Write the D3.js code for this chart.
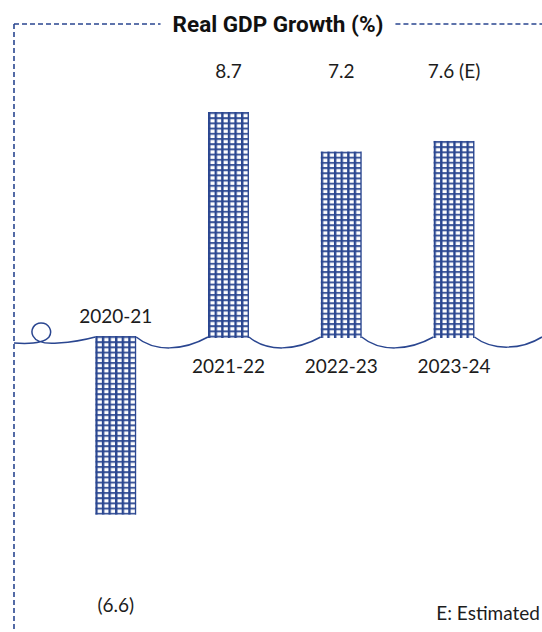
<!DOCTYPE html>
<html><head><meta charset="utf-8">
<script src="https://cdn.jsdelivr.net/npm/d3@7"></script>
<style>
html,body{margin:0;padding:0;background:#fff;}
svg{display:block;}
</style></head>
<body><svg id="c" width="542" height="632"></svg>
<script>
const categories = ["2020-21", "2021-22", "2022-23", "2023-24"];
const values = [-6.6, 8.7, 7.2, 7.6];
const valueLabels = ["(6.6)", "8.7", "7.2", "7.6 (E)"];
const title = "Real GDP Growth (%)";
const note = "E: Estimated";

const W = 542, H = 632;
const blue = "#2a4690";
const ink = "#1c1c1c";
const font = "Lato, 'Open Sans', sans-serif";

const svg = d3.select("#c");
const x = d3.scaleBand().domain(categories).range([58.6, 509.6]).paddingInner(0.65).paddingOuter(0.325);
const y = d3.scaleLinear().domain([0, 8.7]).range([341, 112]);
const y0 = y(0) - 3;

// frame
const dash = "5,3";
svg.append("line").attr("x1", 14).attr("x2", 14).attr("y1", 24).attr("y2", H)
  .attr("stroke", blue).attr("stroke-width", 1.6).attr("stroke-dasharray", dash);
const titleT = svg.append("text").attr("x", 278).attr("y", 32).attr("text-anchor", "middle")
  .attr("font-family", "Roboto, sans-serif").attr("font-weight", 700).attr("font-size", 22.5)
  .attr("fill", "#111").text(title);
const bb = titleT.node().getBBox();
svg.append("line").attr("x1", 14).attr("x2", bb.x - 12).attr("y1", 24).attr("y2", 24)
  .attr("stroke", blue).attr("stroke-width", 1.6).attr("stroke-dasharray", dash);
svg.append("line").attr("x1", bb.x + bb.width + 12).attr("x2", W).attr("y1", 24).attr("y2", 24)
  .attr("stroke", blue).attr("stroke-width", 1.6).attr("stroke-dasharray", dash);

// patterns per bar
const defs = svg.append("defs");
categories.forEach((c, i) => {
  const top = Math.min(y(values[i]), y(0));
  const p = defs.append("pattern").attr("id", "pat" + i).attr("patternUnits", "userSpaceOnUse")
    .attr("x", x(c)).attr("y", values[i] < 0 ? y0 - 2 : top).attr("width", 6.6).attr("height", 5.2);
  p.append("rect").attr("x", 0).attr("y", 0).attr("width", 2.4).attr("height", 5.2).attr("fill", blue);
  p.append("rect").attr("x", 0).attr("y", 0).attr("width", 6.6).attr("height", 2).attr("fill", blue).attr("opacity", 0.9);
});

const bw = x.bandwidth() + 1.5;
svg.append("g").selectAll("rect").data(values).join("rect")
  .attr("x", (d, i) => x(categories[i]))
  .attr("y", d => d >= 0 ? y(d) : y0 - 2)
  .attr("width", bw)
  .attr("height", d => d >= 0 ? y(0) - y(d) - 3 : y(d) - y0 + 2)
  .attr("fill", (d, i) => `url(#pat${i})`);

// wavy baseline with loop
const edges = categories.map(c => [x(c), x(c) + bw]);
let path = d3.path();
path.moveTo(14, y0 + 5);
path.bezierCurveTo(28, y0 + 6, 44, y0 + 5, 49, y0 - 1);
path.bezierCurveTo(53, y0 - 7, 49, y0 - 15, 41, y0 - 15);
path.bezierCurveTo(34, y0 - 15, 30, y0 - 8, 33, y0 - 2);
path.bezierCurveTo(36, y0 + 4, 46, y0 + 6, 58, y0 + 5);
path.bezierCurveTo(74, y0 + 4, 88, y0 + 1, edges[0][0], y0 - 1);
for (let i = 0; i < edges.length; i++) {
  const a = edges[i][1];
  const last = i === edges.length - 1;
  const b = last ? W : edges[i + 1][0];
  const w = last ? 72 : b - a;
  path.moveTo(a, y0 - 1);
  if (last) {
    path.bezierCurveTo(a + w * 0.25, y0 + 13, a + w * 0.65, y0 + 12, b, y0 - 1);
  } else {
    path.bezierCurveTo(a + w * 0.25, y0 + 14, b - w * 0.35, y0 + 13, b, y0 - 1);
  }
}
svg.append("path").attr("d", path.toString()).attr("fill", "none")
  .attr("stroke", blue).attr("stroke-width", 1.5);

// value labels
svg.append("g").selectAll("text").data(values).join("text")
  .attr("x", (d, i) => x(categories[i]) + bw / 2)
  .attr("y", d => d >= 0 ? 78 : 612)
  .attr("text-anchor", "middle").attr("font-family", font).attr("font-size", 19)
  .attr("fill", ink).text((d, i) => valueLabels[i]);

// category labels
svg.append("g").selectAll("text").data(categories).join("text")
  .attr("x", c => x(c) + bw / 2)
  .attr("y", (c, i) => values[i] < 0 ? 323 : 373)
  .attr("text-anchor", "middle").attr("font-family", font).attr("font-size", 19)
  .attr("fill", ink).text(c => c);

svg.append("text").attr("x", 540).attr("y", 620).attr("text-anchor", "end")
  .attr("font-family", font).attr("font-size", 19).attr("fill", ink).text(note);
</script></body></html>
